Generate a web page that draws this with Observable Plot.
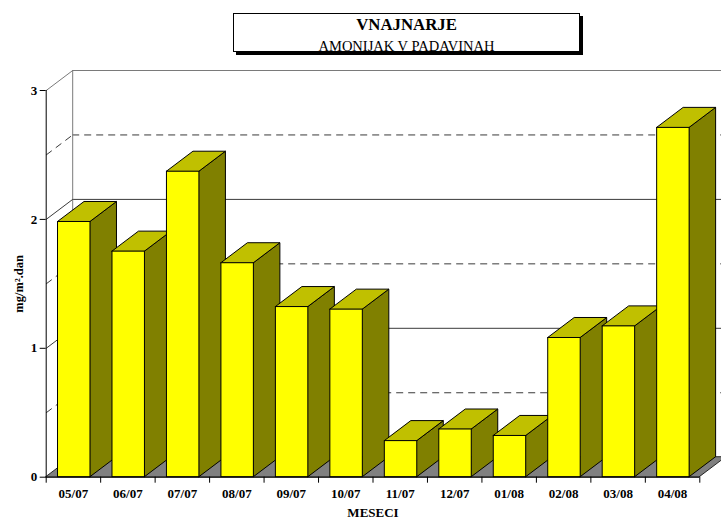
<!DOCTYPE html>
<html>
<head>
<meta charset="utf-8">
<script src="https://cdn.jsdelivr.net/npm/d3@7"></script>
<script src="https://cdn.jsdelivr.net/npm/@observablehq/plot@0.6"></script>
<style>
  html, body { margin: 0; padding: 0; background: white; overflow: hidden; }
  #wrap { position: relative; width: 721px; height: 519px; overflow: hidden; }
  #wrap svg { overflow: hidden; }
  .box { position: absolute; left: 233px; top: 13px; width: 347px; height: 39px; box-sizing: border-box;
         border: 1px solid #000; background: #fff; box-shadow: 3px 3px 0 #000; }
  .t { position: absolute; left: 233px; width: 347px; text-align: center; line-height: 1;
       font-family: "Liberation Serif", "Times New Roman", serif; color: #000; }
  .t1 { top: 17px; font-size: 16.8px; font-weight: bold; }
  .t2 { top: 39px; font-size: 14.5px; }
</style>
</head>
<body>
<div id="wrap">
  <div id="chart"></div>
  <div class="box"></div>
  <div class="t t1">VNAJNARJE</div>
  <div class="t t2">AMONIJAK V PADAVINAH</div>
</div>
<script>
// ---- data ----
const categories = ["05/07","06/07","07/07","08/07","09/07","10/07","11/07","12/07","01/08","02/08","03/08","04/08"];
const values = [1.98, 1.75, 2.37, 1.66, 1.32, 1.30, 0.28, 0.37, 0.32, 1.08, 1.17, 2.71];
const yTicks = [0, 1, 2, 3];
const yMajorGrid = [1, 2];
const yMinorGrid = [0.5, 1.5, 2.5];
const yTitle = "mg/m².dan";
const xTitle = "MESECI";

// ---- 3D projection (depth offsets in data units) ----
const DX = 26.5 / 54.47;   // depth shift along x (band units)
const DY = 20 / 128.9;     // depth shift along y (value units)
const BL = 0.217, BR = 0.813; // bar position inside band

const bars = categories.map((c, i) => ({cat: c, v: values[i], x1: i + BL, x2: i + BR}));
const sides = bars.flatMap(b => [
  {cat: b.cat, x: b.x2, y1: 0, y2: b.v},
  {cat: b.cat, x: b.x2 + DX, y1: DY, y2: b.v + DY}
]);
const tops = bars.flatMap(b => [
  {cat: b.cat, y: b.v, x1: b.x1, x2: b.x2},
  {cat: b.cat, y: b.v + DY, x1: b.x1 + DX, x2: b.x2 + DX}
]);
const n = categories.length;
const floor = [{y: 0, x1: 0, x2: n}, {y: DY, x1: DX, x2: n + DX}];

const gridC = "#3a3a3a", wallC = "#7a7a7a";
const serif = "'Liberation Serif', 'Times New Roman', serif";

const chart = Plot.plot({
  width: 721, height: 519,
  marginLeft: 45.7, marginRight: 21.7, marginTop: 90, marginBottom: 42.3,
  x: {domain: [0, n]},
  y: {domain: [0, 3]},
  style: {fontFamily: serif, fontSize: "12px", background: "white", color: "black"},
  marks: [
    // back wall
    Plot.ruleY(yMinorGrid, {y: d => d + DY, x1: DX, x2: n + 1, stroke: gridC, strokeDasharray: "7,5"}),
    Plot.ruleY(yMajorGrid, {y: d => d + DY, x1: DX, x2: n + 1, stroke: gridC}),
    Plot.ruleY([3], {y: d => d + DY, x1: DX, x2: n + 1, stroke: wallC}),
    Plot.ruleX([DX], {y1: DY, y2: 3 + DY, stroke: wallC}),
    // side wall
    Plot.link(yMinorGrid, {x1: 0, x2: DX, y1: d => d, y2: d => d + DY, stroke: gridC, strokeDasharray: "7,5"}),
    Plot.link(yMajorGrid, {x1: 0, x2: DX, y1: d => d, y2: d => d + DY, stroke: gridC}),
    Plot.link([3], {x1: 0, x2: DX, y1: d => d, y2: d => d + DY, stroke: wallC}),
    // floor
    Plot.areaX(floor, {y: "y", x1: "x1", x2: "x2", fill: "#808080", stroke: "#000", strokeWidth: 0.8}),
    // bars
    Plot.areaY(sides, {x: "x", y1: "y1", y2: "y2", z: "cat", fill: "#808000", stroke: "#000", strokeWidth: 1}),
    Plot.areaX(tops, {y: "y", x1: "x1", x2: "x2", z: "cat", fill: "#C0C000", stroke: "#000", strokeWidth: 1}),
    Plot.rect(bars, {x1: "x1", x2: "x2", y1: 0, y2: "v", fill: "#FFFF00", stroke: "#000", strokeWidth: 1}),
    // axes
    Plot.ruleX([0], {y1: 0, y2: 3, stroke: "#000"}),
    Plot.ruleY([0], {x1: 0, x2: n, stroke: "#000"}),
    Plot.axisY({ticks: yTicks, tickSize: 6, tickPadding: 3, tickFormat: d => String(d), fontWeight: "bold", fontSize: 13, label: null}),
    Plot.axisX({ticks: d3.range(n + 1), tickSize: 6, tickFormat: () => "", label: null}),
    Plot.text(categories, {x: (d, i) => i + 0.5, y: 0, dy: 17, fontWeight: "bold", fontSize: 13}),
    Plot.text([yTitle], {frameAnchor: "left", textAnchor: "middle", dx: -27, rotate: -90, fontWeight: "bold", fontSize: 12.5}),
    Plot.text([xTitle], {frameAnchor: "bottom", lineAnchor: "middle", dy: 36, fontWeight: "bold", fontSize: 13})
  ]
});
document.getElementById("chart").appendChild(chart);
</script>
</body>
</html>
